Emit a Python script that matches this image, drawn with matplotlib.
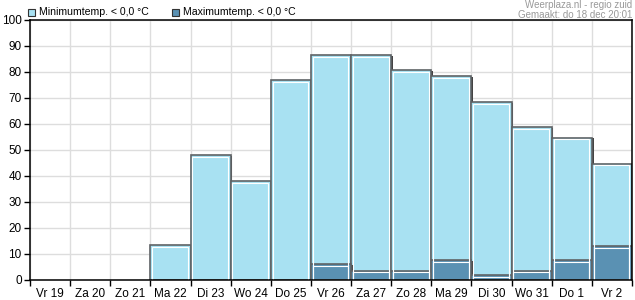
import matplotlib
matplotlib.use("Agg")
import matplotlib.pyplot as plt
import matplotlib.patheffects as pe
from matplotlib.patches import Rectangle

plt.rcParams["font.family"] = ["Liberation Sans", "DejaVu Sans"]

# data
days = ["Vr 19", "Za 20", "Zo 21", "Ma 22", "Di 23", "Wo 24", "Do 25", "Vr 26",
        "Za 27", "Zo 28", "Ma 29", "Di 30", "Wo 31", "Do 1", "Vr 2"]
min_below_zero = [0, 0, 0, 13.3, 48, 38.2, 76.8, 86.4, 86.4, 80.6, 78.4, 68.3, 58.7, 54.8, 44.8]
max_below_zero = [0, 0, 0, 0, 0, 0, 0, 6.1, 3.6, 3.6, 7.8, 1.8, 3.6, 7.8, 13.0]
yticks = list(range(0, 101, 10))

LIGHT = "#a8e1f2"
DARK = "#5a91b3"
EDGE = "#5f6366"

fig = plt.figure(figsize=(6.35, 3.0), dpi=100)
ax = fig.add_axes([30 / 635, 20 / 300, 602 / 635, 260 / 300])

x = list(range(len(days)))
shadow = [pe.SimplePatchShadow(offset=(1.2, -0.6), shadow_rgbFace="#444444", alpha=1.0), pe.Normal()]


def draw_bars(values, color):
    vals = [v if v > 0 else 0 for v in values]
    bars = ax.bar(x, vals, width=1.0, align="edge", color=color, edgecolor=EDGE,
                  linewidth=1.2, zorder=3)
    for b, v in zip(bars, vals):
        if v <= 0:
            b.set_visible(False)
            continue
        b.set_path_effects(shadow)
        # inner highlight
        ax.add_patch(Rectangle((b.get_x() + 0.045, 0.0), b.get_width() - 0.11, v - 0.7,
                               fill=False, edgecolor="white", linewidth=0.8, zorder=4))


draw_bars(min_below_zero, LIGHT)
draw_bars(max_below_zero, DARK)

ax.set_xlim(0, len(days))
ax.set_ylim(0, 100)
ax.set_yticks(yticks)
ax.set_yticklabels([str(t) for t in yticks])
ax.set_xticks(x + [len(days)])
ax.set_xticklabels([])
ax.set_xticks([i + 0.5 for i in x], minor=True)
ax.set_xticklabels(days, minor=True)
ax.tick_params(axis="x", which="minor", length=0, pad=6, labelsize=8.5)
ax.tick_params(axis="x", which="major", length=4, width=1, direction="out")
ax.tick_params(axis="y", length=4, width=1, direction="out", labelsize=8.5, pad=2)

ax.grid(True, which="major", color="#dddddd", linewidth=1, zorder=0)
ax.set_axisbelow(True)
for s in ax.spines.values():
    s.set_color("black")
    s.set_linewidth(1.1)
    s.set_zorder(5)

# legend
fig.add_artist(Rectangle((28 / 635, 1 - 16 / 300), 7 / 635, 7 / 300, facecolor=LIGHT,
                         edgecolor="#333333", linewidth=0.8, transform=fig.transFigure))
fig.text(39 / 635, 1 - 12 / 300, "Minimumtemp. < 0,0 °C", fontsize=7.6, va="center")
fig.add_artist(Rectangle((172 / 635, 1 - 16 / 300), 7 / 635, 7 / 300, facecolor=DARK,
                         edgecolor="#333333", linewidth=0.8, transform=fig.transFigure))
fig.text(183 / 635, 1 - 12 / 300, "Maximumtemp. < 0,0 °C", fontsize=7.6, va="center")

fig.text(632 / 635, 1 - 5 / 300, "Weerplaza.nl - regio zuid", fontsize=7, color="#999999",
         ha="right", va="center")
fig.text(632 / 635, 1 - 15 / 300, "Gemaakt: do 18 dec 20:01", fontsize=7, color="#999999",
         ha="right", va="center")

fig.savefig("out.png", dpi=100)
